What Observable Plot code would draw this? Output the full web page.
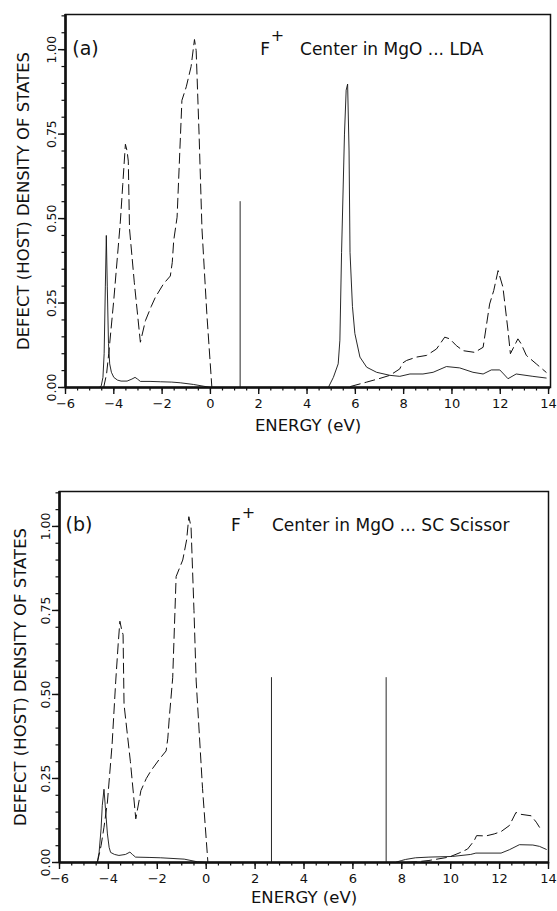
<!DOCTYPE html>
<html><head><meta charset="utf-8">
<script src="https://cdn.jsdelivr.net/npm/d3@7"></script>
<script src="https://cdn.jsdelivr.net/npm/@observablehq/plot@0.6"></script>
<style>body{margin:0;background:#fff;} #chart svg{display:block;}</style>
</head><body><div id="chart"></div>
<script>
// ---- tick labels / text ----
const xTicks = [-6, -4, -2, 0, 2, 4, 6, 8, 10, 12, 14];
const xMinorTicks = d3.range(-6, 14.01, 0.5);
const yTicks = [0, 0.25, 0.5, 0.75, 1.0];
const yMinorTicks = d3.range(0, 1.101, 0.05);
const yLabel = "DEFECT (HOST) DENSITY OF STATES";
const xLabel = "ENERGY (eV)";
const panelTags = ["(a)", "(b)"];
const panelTitles = ["Center in MgO ... LDA", "Center in MgO ... SC Scissor"];

// ---- panel (a) LDA ----
const hostValA_x = [-4.42, -4.30, -4.21, -4.00, -3.73, -3.63, -3.52, -3.45, -3.40, -3.35, -3.15, -2.90, -2.69, -2.45, -2.28, -1.94, -1.66, -1.58, -1.52, -1.38, -1.18, -1.00, -0.80, -0.66, -0.59, -0.47, -0.35, -0.15, 0.06];
const hostValA_y = [0.00, 0.04, 0.10, 0.26, 0.49, 0.60, 0.72, 0.70, 0.67, 0.47, 0.31, 0.134, 0.198, 0.24, 0.267, 0.307, 0.33, 0.37, 0.435, 0.504, 0.85, 0.89, 0.95, 1.03, 0.997, 0.75, 0.47, 0.22, 0.00];
const defValA_x = [-4.60, -4.52, -4.45, -4.40, -4.35, -4.31, -4.27, -4.22, -4.17, -4.10, -4.00, -3.85, -3.70, -3.45, -3.25, -3.12, -3.02, -2.90, -2.50, -2.07, -1.60, -1.25, -0.70, -0.30, 0.00];
const defValA_y = [0.00, 0.005, 0.03, 0.10, 0.30, 0.45, 0.30, 0.13, 0.07, 0.045, 0.03, 0.022, 0.019, 0.019, 0.025, 0.03, 0.025, 0.018, 0.018, 0.017, 0.016, 0.014, 0.009, 0.004, 0.00];
const defConA_x = [4.70, 4.88, 5.09, 5.29, 5.36, 5.43, 5.55, 5.62, 5.68, 5.74, 5.78, 5.88, 5.98, 6.19, 6.47, 6.88, 7.43, 7.84, 8.26, 8.80, 9.22, 9.77, 10.32, 10.87, 11.29, 11.63, 11.98, 12.14, 12.32, 12.66, 13.35, 13.90];
const defConA_y = [0.00, 0.00, 0.03, 0.07, 0.14, 0.40, 0.75, 0.88, 0.898, 0.70, 0.40, 0.24, 0.16, 0.09, 0.06, 0.045, 0.036, 0.033, 0.04, 0.04, 0.045, 0.062, 0.058, 0.045, 0.04, 0.052, 0.052, 0.04, 0.026, 0.04, 0.033, 0.028];
const hostConA_x = [5.80, 6.47, 7.02, 7.43, 7.84, 7.95, 8.12, 8.53, 8.95, 9.36, 9.70, 9.91, 10.18, 10.46, 10.94, 11.29, 11.56, 11.73, 11.91, 12.11, 12.32, 12.42, 12.66, 12.73, 12.86, 13.08, 13.49, 13.90];
const hostConA_y = [0.003, 0.016, 0.027, 0.036, 0.055, 0.072, 0.08, 0.09, 0.095, 0.114, 0.149, 0.144, 0.124, 0.109, 0.104, 0.119, 0.247, 0.287, 0.346, 0.297, 0.169, 0.10, 0.134, 0.144, 0.13, 0.095, 0.07, 0.045];
const levelsA = [1.23];
const levelHeightA = [0.55];

// ---- panel (b) SC Scissor ----
const hostValB_x = [-4.45, -4.30, -4.18, -4.04, -3.85, -3.70, -3.60, -3.53, -3.45, -3.40, -3.36, -3.10, -2.88, -2.67, -2.45, -2.26, -1.92, -1.64, -1.57, -1.51, -1.37, -1.23, -0.96, -0.80, -0.71, -0.62, -0.50, -0.41, -0.15, 0.07];
const hostValB_y = [0.00, 0.05, 0.105, 0.18, 0.35, 0.54, 0.65, 0.718, 0.69, 0.678, 0.47, 0.30, 0.13, 0.214, 0.25, 0.273, 0.307, 0.332, 0.37, 0.43, 0.55, 0.851, 0.90, 0.96, 1.029, 0.999, 0.75, 0.54, 0.22, 0.00];
const defValB_x = [-4.50, -4.45, -4.38, -4.30, -4.25, -4.18, -4.12, -4.04, -3.97, -3.91, -3.75, -3.57, -3.30, -3.12, -3.02, -2.89, -2.30, -1.86, -0.90, -0.36, 0.00];
const defValB_y = [0.00, 0.003, 0.03, 0.10, 0.17, 0.218, 0.16, 0.085, 0.045, 0.03, 0.024, 0.021, 0.024, 0.031, 0.024, 0.016, 0.015, 0.014, 0.01, 0.002, 0.00];
const defConB_x = [7.75, 7.81, 8.00, 8.15, 8.56, 9.11, 10.07, 10.82, 11.03, 12.06, 12.40, 12.81, 13.36, 13.63, 13.91];
const defConB_y = [0.00, 0.002, 0.006, 0.009, 0.014, 0.016, 0.018, 0.024, 0.028, 0.028, 0.038, 0.053, 0.052, 0.048, 0.039];
const hostConB_x = [8.20, 8.60, 9.11, 9.93, 10.34, 10.69, 10.96, 11.06, 11.44, 11.78, 12.06, 12.40, 12.67, 12.81, 13.29, 13.50, 13.63];
const hostConB_y = [0.00, 0.002, 0.006, 0.016, 0.028, 0.04, 0.065, 0.08, 0.079, 0.085, 0.092, 0.11, 0.149, 0.144, 0.139, 0.12, 0.105];
const levelsB = [2.67, 7.36];
const levelHeightB = [0.55, 0.55];

const zip = (xs, ys) => xs.map((x, i) => ({x, y: ys[i]}));
const FONT = "DejaVu Sans, sans-serif";
const INK = "#111";

function panel(cfg) {
  const marks = [
    // host (dashed)
    Plot.line(zip(cfg.hostVal[0], cfg.hostVal[1]), {x: "x", y: "y", stroke: INK, strokeWidth: 1, strokeDasharray: "10,5"}),
    Plot.line(zip(cfg.hostCon[0], cfg.hostCon[1]), {x: "x", y: "y", stroke: INK, strokeWidth: 1, strokeDasharray: "10,5"}),
    // defect (solid)
    Plot.line(zip(cfg.defVal[0], cfg.defVal[1]), {x: "x", y: "y", stroke: INK, strokeWidth: 0.9}),
    Plot.line(zip(cfg.defCon[0], cfg.defCon[1]), {x: "x", y: "y", stroke: INK, strokeWidth: 0.9}),
    Plot.ruleX(cfg.levels.map((x, i) => ({x, h: cfg.levelH[i]})), {x: "x", y1: 0, y2: "h", stroke: INK, strokeWidth: 0.9}),
    // frame
    Plot.frame({stroke: INK, strokeWidth: 1.5}),
    Plot.ruleX([-6], {stroke: INK, strokeWidth: 2.6}),
    Plot.ruleY([0], {stroke: INK, strokeWidth: 2.6}),
    // axes
    Plot.axisX({ticks: xMinorTicks, tickSize: 3.5, tickFormat: () => "", stroke: INK, strokeWidth: 1.2, label: null}),
    Plot.axisX({ticks: xTicks, tickSize: 7, tickPadding: 4, fontSize: 13, stroke: INK, strokeWidth: 1.4, fill: INK, label: null}),
    Plot.axisY({ticks: yMinorTicks, tickSize: 3.5, tickFormat: () => "", stroke: INK, strokeWidth: 1.2, label: null}),
    Plot.axisY({ticks: yTicks, tickSize: 7, tickRotate: -90, tickPadding: 3, tickFormat: d3.format(".2f"), fontSize: 12.5, stroke: INK, strokeWidth: 1.4, fill: INK, label: null}),
    // labels
    Plot.text([yLabel], {frameAnchor: "left", textAnchor: "middle", rotate: -90, dx: cfg.yLabelDx, fontSize: 16.5, fill: INK, fontFamily: FONT}),
    Plot.text([xLabel], {frameAnchor: "bottom", dy: cfg.xLabelDy, fontSize: 16.5, fill: INK, fontFamily: FONT}),
    Plot.text([cfg.tag], {x: cfg.tagX, y: cfg.textY, textAnchor: "start", lineAnchor: "bottom", fontSize: 19, fill: INK, fontFamily: FONT}),
    Plot.text(["F"], {x: cfg.fX, y: cfg.textY, textAnchor: "start", lineAnchor: "bottom", fontSize: 17, fill: INK, fontFamily: FONT}),
    Plot.text(["+"], {x: cfg.plusX, y: cfg.textY + 0.04, textAnchor: "start", lineAnchor: "bottom", fontSize: 16, fill: INK, fontFamily: FONT}),
    Plot.text([cfg.title], {x: cfg.titleX, y: cfg.textY, textAnchor: "start", lineAnchor: "bottom", fontSize: 17, fill: INK, fontFamily: FONT})
  ];
  return Plot.plot({
    width: 557,
    height: cfg.height,
    marginTop: cfg.mt, marginBottom: cfg.mb, marginLeft: cfg.ml, marginRight: cfg.mr,
    style: {fontFamily: FONT, background: "#fff", color: INK},
    x: {domain: cfg.xDomain},
    y: {domain: [0, 1.104]},
    marks
  });
}

const chart = document.getElementById("chart");
chart.appendChild(panel({
  height: 450, mt: 14, mb: 63, ml: 65, mr: 7, xDomain: [-6, 14.08],
  hostVal: [hostValA_x, hostValA_y], hostCon: [hostConA_x, hostConA_y],
  defVal: [defValA_x, defValA_y], defCon: [defConA_x, defConA_y],
  levels: levelsA, levelH: levelHeightA,
  yLabelDx: -42, xLabelDy: 43, tag: panelTags[0], tagX: -5.72, fX: 2.06, plusX: 2.5, titleX: 3.71, textY: 0.985, title: panelTitles[0]
}));
chart.appendChild(panel({
  height: 461, mt: 41, mb: 49, ml: 59, mr: 9, xDomain: [-6, 14.0],
  hostVal: [hostValB_x, hostValB_y], hostCon: [hostConB_x, hostConB_y],
  defVal: [defValB_x, defValB_y], defCon: [defConB_x, defConB_y],
  levels: levelsB, levelH: levelHeightB,
  yLabelDx: -39, xLabelDy: 40, tag: panelTags[1], tagX: -5.75, fX: 1.01, plusX: 1.45, titleX: 2.69, textY: 0.985, title: panelTitles[1]
}));
</script></body></html>
